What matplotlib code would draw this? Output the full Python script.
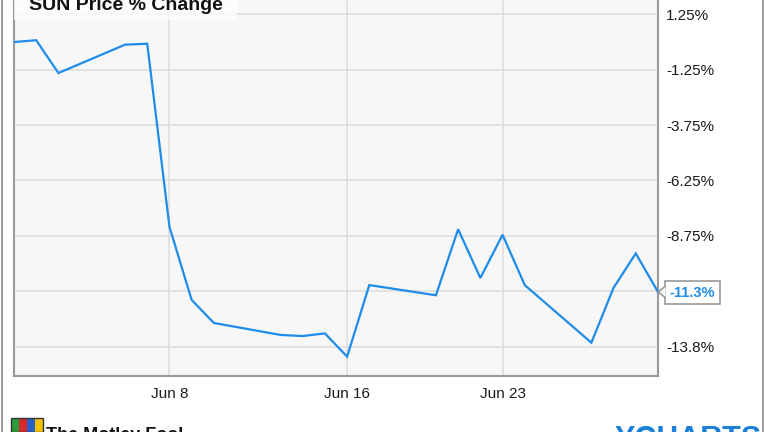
import numpy as np
import pandas as pd
import matplotlib
matplotlib.use('Agg')
import matplotlib.pyplot as plt
import matplotlib.dates as mdates
import matplotlib.transforms as mtransforms
from matplotlib.patches import Rectangle, Polygon
from matplotlib.lines import Line2D

plt.rcParams['font.family'] = ['Liberation Sans', 'DejaVu Sans']

# SUN price % change, June 2016 (trading days)
dates = pd.to_datetime([
    '2016-06-01', '2016-06-02', '2016-06-03', '2016-06-06', '2016-06-07',
    '2016-06-08', '2016-06-09', '2016-06-10', '2016-06-13', '2016-06-14',
    '2016-06-15', '2016-06-16', '2016-06-17', '2016-06-20', '2016-06-21',
    '2016-06-22', '2016-06-23', '2016-06-24', '2016-06-27', '2016-06-28',
    '2016-06-29', '2016-06-30'])
pct_change = [0.0, 0.08, -1.40, -0.12, -0.08,
              -8.34, -11.64, -12.68, -13.22, -13.27,
              -13.15, -14.20, -10.97, -11.43, -8.45,
              -10.65, -8.70, -10.97, -13.57, -11.09,
              -9.54, -11.28]

ytick_vals = [1.25, -1.25, -3.75, -6.25, -8.75, -11.25, -13.75]
ytick_labels = ['1.25%', '-1.25%', '-3.75%', '-6.25%', '-8.75%', '', '-13.8%']
xtick_dates = pd.to_datetime(['2016-06-08', '2016-06-16', '2016-06-23'])
xtick_labels = ['Jun 8', 'Jun 16', 'Jun 23']

line_color = '#1e8ce8'
grid_color = '#dedede'
frame_color = '#9a9a9a'

fig = plt.figure(figsize=(7.64, 4.32), dpi=100)
fig.patch.set_facecolor('white')

# axes spans past the top edge (reference is cropped there)
ax = fig.add_axes([14 / 764, 0.1303, 644 / 764, 0.9007])
ax.set_facecolor('#f7f7f7')
ax.plot(dates, pct_change, color=line_color, linewidth=1.6, zorder=3,
        solid_joinstyle='miter')

ax.set_xlim(pd.Timestamp('2016-06-01'), pd.Timestamp('2016-06-30'))
ax.set_ylim(-15.06, 2.5)

ax.set_xticks(xtick_dates)
ax.set_xticklabels(xtick_labels)
ax.set_yticks(ytick_vals)
ax.set_yticklabels(ytick_labels)
ax.yaxis.tick_right()
ax.tick_params(axis='both', length=0, labelsize=11, colors='#1a1a1a')
ax.tick_params(axis='y', pad=6)
ax.tick_params(axis='x', pad=8)

ax.grid(True, color=grid_color, linewidth=1.2)
ax.set_axisbelow(True)
for side in ['left', 'bottom', 'right']:
    ax.spines[side].set_color(frame_color)
    ax.spines[side].set_linewidth(1.5)
ax.spines['top'].set_visible(False)

# last value callout
last_x = dates[-1]
last_y = pct_change[-1]
ax.annotate('%.1f%%' % last_y, xy=(last_x, last_y), xytext=(8.5, -0.5),
            textcoords='offset points', ha='left', va='center',
            fontsize=10.5, fontweight='bold', color=line_color,
            annotation_clip=False, zorder=6,
            bbox=dict(boxstyle='square,pad=0.3', fc='white', ec=frame_color, lw=1.2))
chev_trans = fig.dpi_scale_trans + mtransforms.ScaledTranslation(
    mdates.date2num(last_x), last_y, ax.transData)
chev = Polygon([[0.075, 0.06], [0.005, 0.0], [0.075, -0.06]], closed=False,
               fc='white', ec=frame_color, lw=1.2, transform=chev_trans,
               clip_on=False, zorder=7)
ax.add_patch(chev)

# title with light box behind it
fig.add_artist(Rectangle((14 / 764, 1 - 20 / 432), 223 / 764, 20 / 432,
                         transform=fig.transFigure, fc='white', ec='none',
                         alpha=0.75, zorder=4))
fig.text(29 / 764, 1 - 10 / 432, 'SUN Price % Change', fontsize=14,
         fontweight='bold', color='#111111', ha='left', va='baseline', zorder=5)

# outer frame (left/right edges visible)
fig.add_artist(Line2D([2 / 764, 2 / 764], [0, 1], color='#8a8a8a', lw=1.2))
fig.add_artist(Line2D([762.5 / 764, 762.5 / 764], [0, 1], color='#8a8a8a', lw=1.2))

# footer (cropped in reference)
logo_cols = ['#2a9d3a', '#d62b2b', '#2a5fc8', '#f2c300']
for i, c in enumerate(logo_cols):
    fig.add_artist(Rectangle(((11 + i * 8) / 764, 0), 8 / 764, 14 / 432,
                             transform=fig.transFigure, fc=c, ec='none'))
fig.add_artist(Rectangle((11 / 764, 0), 32 / 764, 14 / 432,
                         transform=fig.transFigure, fc='none', ec='#333333', lw=1))
fig.text(46 / 764, 1 - 440 / 432, 'The Motley Fool', fontsize=13,
         fontweight='bold', color='#111111', ha='left', va='baseline')
fig.text(614 / 764, 1 - 448 / 432, 'YCHARTS', fontsize=22,
         fontweight='bold', color='#1a7fd8', ha='left', va='baseline')

fig.savefig('out.png', dpi=100)
